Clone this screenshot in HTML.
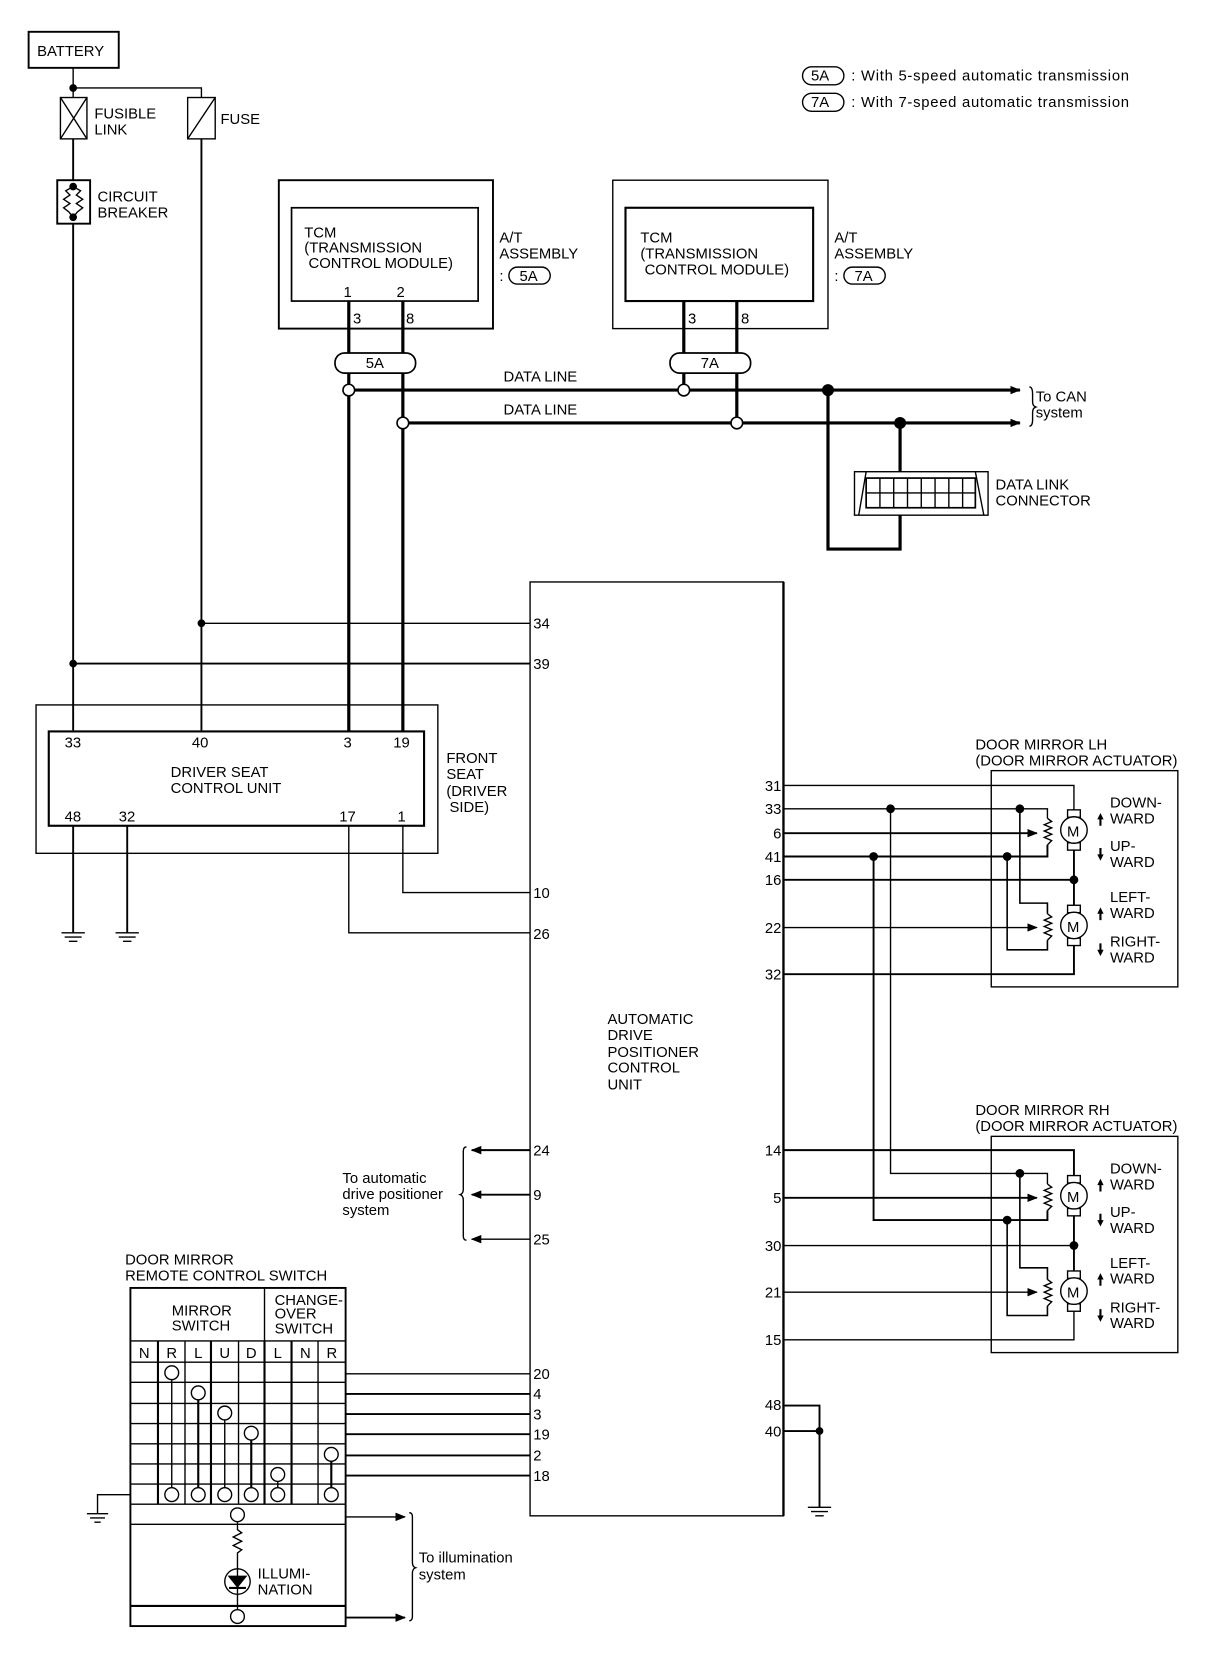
<!DOCTYPE html>
<html><head><meta charset="utf-8"><style>
html,body{margin:0;padding:0;background:#fff;}
svg{display:block;}
text{font-family:"Liberation Sans",sans-serif;font-size:14px;fill:#000;}
</style></head><body>
<svg width="1216" height="1660" viewBox="0 0 1147 1566" preserveAspectRatio="none" xmlns="http://www.w3.org/2000/svg">
<defs>
<marker id="ar" markerWidth="10" markerHeight="8" refX="9" refY="4" orient="auto" markerUnits="userSpaceOnUse"><path d="M0,0 L10,4 L0,8 Z" fill="#000"/></marker>
</defs>
<g stroke="#000" fill="none" stroke-width="1.3">
<!-- Battery -->
<rect x="27" y="30" width="85" height="34" stroke-width="1.8"/>
<path d="M69,64 V92 M69,83 H190 V92"/>
<circle cx="69" cy="83" r="3" fill="#000"/>
<rect x="57" y="92" width="25" height="39"/><path d="M57,92 L82,131 M82,92 L57,131"/>
<rect x="177" y="92" width="26" height="39"/><path d="M177,131 L203,92"/>
<path d="M69,131 V170" stroke-width="1.8"/>
<rect x="54" y="170" width="31" height="41" stroke-width="1.8"/>
<path d="M69,176 L62,180 L66,184 L60,188 L66,192 L60,196 L65,200 L69,205 M69,176 L76,180 L72,184 L78,188 L72,192 L78,196 L73,200 L69,205"/>
<circle cx="69" cy="176" r="3" fill="#000"/><circle cx="69" cy="205" r="3" fill="#000"/>
<path d="M69,211 V689" stroke-width="1.8"/>
<path d="M190,131 V689" stroke-width="1.8"/>
<circle cx="190" cy="588" r="3" fill="#000"/><circle cx="69" cy="626" r="3" fill="#000"/>
<path d="M190,588 H500"/><path d="M69,626 H500" stroke-width="1.8"/>
<!-- TCM boxes -->
<rect x="263" y="170" width="202" height="140" stroke-width="1.8"/>
<rect x="275" y="196" width="176" height="88" stroke-width="1.6"/>
<rect x="578" y="170" width="203" height="140" stroke-width="1.3"/>
<rect x="590" y="196" width="177" height="88" stroke-width="2"/>
<path d="M329,284 V690 M380,284 V690" stroke-width="3"/>
<path d="M645,284 V368 M695,284 V399" stroke-width="3"/>
<rect x="316" y="333" width="76" height="19" rx="9" fill="#fff" stroke-width="1.6"/>
<rect x="632" y="333" width="76" height="19" rx="9" fill="#fff" stroke-width="1.6"/>
<path d="M329,368 H962" stroke-width="3" marker-end="url(#ar)"/>
<path d="M380,399 H962" stroke-width="3" marker-end="url(#ar)"/>
<circle cx="329" cy="368" r="5.5" fill="#fff" stroke-width="1.5"/>
<circle cx="380" cy="399" r="5.5" fill="#fff" stroke-width="1.5"/>
<circle cx="645" cy="368" r="5.5" fill="#fff" stroke-width="1.5"/>
<circle cx="695" cy="399" r="5.5" fill="#fff" stroke-width="1.5"/>
<circle cx="781" cy="368" r="5" fill="#000"/><circle cx="849" cy="399" r="5" fill="#000"/>
<path d="M781,368 V518 H849 V486 M849,399 V445" stroke-width="3"/>
<path d="M971,365 Q974,365 974,372 V379 Q974,383 977,384 Q974,385 974,389 V396 Q974,402 971,402"/>
<!-- DLC -->
<rect x="806" y="445" width="126" height="41" stroke-width="1.3"/>
<path d="M817,445 L810,486 M920,445 L928,486"/>
<rect x="817" y="451" width="103" height="28" stroke-width="1.6"/>
<path d="M817,465 H920 M830,451 V479 M843,451 V479 M856,451 V479 M869,451 V479 M882,451 V479 M895,451 V479 M908,451 V479"/>
<!-- Legend pills -->
<rect x="757" y="63" width="39" height="17" rx="8.5"/>
<rect x="757" y="88" width="39" height="17" rx="8.5"/>
<rect x="480" y="252" width="39" height="16" rx="8"/>
<rect x="796" y="252" width="39" height="16" rx="8"/>
<!-- Driver seat -->
<rect x="34" y="665" width="379" height="140"/>
<rect x="46" y="690" width="354" height="89" stroke-width="2"/>
<path d="M69,779 V880 M120,779 V880" stroke-width="1.8"/>
<path d="M58,880 H80 M61,884 H77 M65,888 H73 M109,880 H131 M112,884 H128 M116,888 H124"/>
<path d="M329,779 V880 H500" stroke-width="1.3"/>
<path d="M380,779 V842 H500"/>
<!-- ADP -->
<rect x="500" y="549" width="239" height="881" stroke-width="1.3"/>
<path d="M739,549 V1430" stroke-width="2.2"/>
<path d="M500,1085 H445" stroke-width="1.8" marker-end="url(#ar)"/>
<path d="M500,1127 H445" stroke-width="1.8" marker-end="url(#ar)"/>
<path d="M500,1169 H445" stroke-width="1.3" marker-end="url(#ar)"/>
<path d="M440,1082 Q437,1082 437,1086 V1122 Q437,1126 434,1127 Q437,1128 437,1132 V1166 Q437,1170 440,1170"/>
<path d="M739,1326 H773 V1422 M739,1350 H773" stroke-width="1.8"/>
<circle cx="773" cy="1350" r="3" fill="#000"/>
<path d="M762,1422 H784 M765,1426 H781 M769,1430 H777"/>
<!-- LH mirror -->
<rect x="935" y="727" width="176" height="204"/>
<path d="M739,741 H1013 V764"/>
<path d="M739,763 H988 V772"/>
<path d="M739,786 H978" stroke-width="1.8" marker-end="url(#ar)"/>
<path d="M739,808 H988 V797" stroke-width="1.8"/>
<path d="M739,830 H1013" stroke-width="1.8"/>
<path d="M739,875 H978" marker-end="url(#ar)"/>
<path d="M739,919 H1013 V887" stroke-width="1.8"/>
<path d="M1013,802 V854" stroke-width="1.8"/>
<circle cx="1013" cy="830" r="3.5" fill="#000"/>
<path d="M962,763 V852 H988 V862 M950,808 V896 H988 V887" stroke-width="1.5"/>
<circle cx="840" cy="763" r="3.5" fill="#000"/><circle cx="962" cy="763" r="3.5" fill="#000"/>
<circle cx="824" cy="808" r="3.5" fill="#000"/><circle cx="950" cy="808" r="3.5" fill="#000"/>
<path d="M988,772 L992,775 L985,778 L992,781 L985,784 L992,787 L985,790 L992,793 L988,797"/>
<path d="M988,862 L992,865 L985,868 L992,871 L985,874 L992,877 L985,880 L992,883 L988,887"/>
<rect x="1007" y="764" width="12" height="7" fill="#fff"/><rect x="1007" y="795" width="12" height="7" fill="#fff"/>
<circle cx="1013" cy="783" r="12.5" fill="#fff"/>
<rect x="1007" y="854" width="12" height="7" fill="#fff"/><rect x="1007" y="885" width="12" height="7" fill="#fff"/>
<circle cx="1013" cy="873" r="12.5" fill="#fff"/>
<path d="M840,763 V1107 H988 V1117" stroke-width="1.3"/>
<path d="M824,808 V1151 H988 V1142" stroke-width="1.8"/>
<!-- RH mirror -->
<rect x="935" y="1072" width="176" height="204"/>
<path d="M739,1085 H1013 V1109" stroke-width="1.8"/>
<path d="M739,1130 H978" stroke-width="1.8" marker-end="url(#ar)"/>
<path d="M739,1175 H1013"/>
<path d="M739,1219 H978" marker-end="url(#ar)"/>
<path d="M739,1264 H1013 V1232"/>
<path d="M1013,1147 V1199" stroke-width="1.8"/>
<circle cx="1013" cy="1175" r="3.5" fill="#000"/>
<path d="M962,1107 V1196 H988 V1207 M950,1151 V1241 H988 V1232" stroke-width="1.5"/>
<circle cx="962" cy="1107" r="3.5" fill="#000"/><circle cx="950" cy="1151" r="3.5" fill="#000"/>
<path d="M988,1117 L992,1120 L985,1123 L992,1126 L985,1129 L992,1132 L985,1135 L992,1138 L988,1142"/>
<path d="M988,1207 L992,1210 L985,1213 L992,1216 L985,1219 L992,1222 L985,1225 L992,1228 L988,1232"/>
<rect x="1007" y="1109" width="12" height="7" fill="#fff"/><rect x="1007" y="1140" width="12" height="7" fill="#fff"/>
<circle cx="1013" cy="1128" r="12.5" fill="#fff"/>
<rect x="1007" y="1199" width="12" height="7" fill="#fff"/><rect x="1007" y="1230" width="12" height="7" fill="#fff"/>
<circle cx="1013" cy="1218" r="12.5" fill="#fff"/>
<!-- Switch -->
<rect x="123" y="1215" width="203" height="319" stroke-width="1.8"/>
<path d="M249.5,1215 V1265 M123,1265 H326 M123,1285 H326 M123,1304 H326 M123,1324 H326 M123,1343 H326 M123,1362 H326 M123,1381 H326 M123,1400 H326 M123,1419 H326 M123,1438 H326" stroke-width="1.3"/>
<path d="M123,1515 H326" stroke-width="2"/>
<path d="M149,1265 V1419 M199,1265 V1419 M249.5,1265 V1419 M275,1265 V1419" stroke-width="2"/>
<path d="M174.5,1265 V1419 M225,1265 V1419 M300,1265 V1419"/>
<path d="M162,1295 V1410 M212,1333 V1410 M262,1391 V1410"/>
<path d="M187,1314 V1410 M237,1352 V1410 M312.5,1372 V1410" stroke-width="2"/>
<g fill="#fff">
<circle cx="162" cy="1295" r="6.5"/><circle cx="187" cy="1314" r="6.5"/><circle cx="212" cy="1333" r="6.5"/><circle cx="237" cy="1352" r="6.5"/><circle cx="312.5" cy="1372" r="6.5"/><circle cx="262" cy="1391" r="6.5"/>
<circle cx="162" cy="1410" r="6.5"/><circle cx="187" cy="1410" r="6.5"/><circle cx="212" cy="1410" r="6.5"/><circle cx="237" cy="1410" r="6.5"/><circle cx="262" cy="1410" r="6.5"/><circle cx="312.5" cy="1410" r="6.5"/>
</g>
<path d="M326,1296 H500"/>
<path d="M326,1315 H500 M326,1334 H500 M326,1353 H500 M326,1373 H500 M326,1392 H500" stroke-width="1.8"/>
<path d="M123,1410 H92 V1428 M82,1428 H102 M85,1432 H99 M89,1436 H95"/>
<path d="M224,1436 V1443 L228,1446 L220,1450 L228,1454 L220,1458 L228,1462 L224,1465 V1518"/>
<circle cx="224" cy="1429" r="6.5" fill="#fff"/>
<circle cx="224" cy="1525" r="6.5" fill="#fff"/>
<circle cx="224" cy="1492" r="12" fill="#fff"/>
<path d="M224,1479 V1505"/>
<path d="M216,1487 H232 L224,1497 Z" fill="#000"/><path d="M216,1498 H232" stroke-width="2"/>
<path d="M326,1431 H382" stroke-width="1.3" marker-end="url(#ar)"/>
<path d="M326,1526 H382" stroke-width="1.8" marker-end="url(#ar)"/>
<path d="M386,1427 Q389,1427 389,1431 V1474 Q389,1478 392,1479 Q389,1480 389,1484 V1525 Q389,1529 386,1529"/>
</g>
<g>
<text x="35" y="53">BATTERY</text>
<text x="89" y="112">FUSIBLE</text><text x="89" y="127">LINK</text>
<text x="208" y="117">FUSE</text>
<text x="92" y="190">CIRCUIT</text><text x="92" y="205">BREAKER</text>
<text x="765" y="76" font-size="13">5A</text><text x="803" y="76" textLength="262">: With 5-speed automatic transmission</text>
<text x="765" y="101" font-size="13">7A</text><text x="803" y="101" textLength="262">: With 7-speed automatic transmission</text>
<text x="287" y="224">TCM</text><text x="287" y="238">(TRANSMISSION</text><text x="291" y="253">CONTROL MODULE)</text>
<text x="324" y="280">1</text><text x="374" y="280">2</text>
<text x="333" y="305">3</text><text x="383" y="305">8</text>
<text x="471" y="229">A/T</text><text x="471" y="244">ASSEMBLY</text><text x="471" y="265">:</text><text x="490" y="265" font-size="13">5A</text>
<text x="604" y="229">TCM</text><text x="604" y="244">(TRANSMISSION</text><text x="608" y="259">CONTROL MODULE)</text>
<text x="649" y="305">3</text><text x="699" y="305">8</text>
<text x="787" y="229">A/T</text><text x="787" y="244">ASSEMBLY</text><text x="787" y="265">:</text><text x="806" y="265" font-size="13">7A</text>
<text x="345" y="347" font-size="13">5A</text><text x="661" y="347" font-size="13">7A</text>
<text x="475" y="360">DATA LINE</text><text x="475" y="391">DATA LINE</text>
<text x="977" y="379">To CAN</text><text x="977" y="394">system</text>
<text x="939" y="462">DATA LINK</text><text x="939" y="477">CONNECTOR</text>
<text x="61" y="705">33</text><text x="181" y="705">40</text><text x="324" y="705">3</text><text x="371" y="705">19</text>
<text x="161" y="733">DRIVER SEAT</text><text x="161" y="748">CONTROL UNIT</text>
<text x="61" y="775">48</text><text x="112" y="775">32</text><text x="320" y="775">17</text><text x="375" y="775">1</text>
<text x="421" y="720">FRONT</text><text x="421" y="735">SEAT</text><text x="421" y="751">(DRIVER</text><text x="424" y="766">SIDE)</text>
<text x="503" y="593">34</text><text x="503" y="631">39</text><text x="503" y="847">10</text><text x="503" y="886">26</text>
<text x="503" y="1090">24</text><text x="503" y="1132">9</text><text x="503" y="1174">25</text>
<text x="503" y="1301">20</text><text x="503" y="1320">4</text><text x="503" y="1339">3</text><text x="503" y="1358">19</text><text x="503" y="1378">2</text><text x="503" y="1397">18</text>
<g text-anchor="end">
<text x="737" y="746">31</text><text x="737" y="768">33</text><text x="737" y="791">6</text><text x="737" y="813">41</text><text x="737" y="835">16</text><text x="737" y="880">22</text><text x="737" y="924">32</text>
<text x="737" y="1090">14</text><text x="737" y="1135">5</text><text x="737" y="1180">30</text><text x="737" y="1224">21</text><text x="737" y="1269">15</text><text x="737" y="1330">48</text><text x="737" y="1355">40</text>
</g>
<text x="573" y="966">AUTOMATIC</text><text x="573" y="981">DRIVE</text><text x="573" y="997">POSITIONER</text><text x="573" y="1012">CONTROL</text><text x="573" y="1028">UNIT</text>
<text x="323" y="1116">To automatic</text><text x="323" y="1131">drive positioner</text><text x="323" y="1146">system</text>
<text x="920" y="707">DOOR MIRROR LH</text><text x="920" y="722">(DOOR MIRROR ACTUATOR)</text>
<text x="920" y="1052">DOOR MIRROR RH</text><text x="920" y="1067">(DOOR MIRROR ACTUATOR)</text>
<g font-size="15">
<text x="1006.5" y="789">M</text><text x="1006.5" y="879">M</text><text x="1006.5" y="1134">M</text><text x="1006.5" y="1224">M</text>
</g>
<g>
<text x="1047" y="762">DOWN-</text><text x="1047" y="777">WARD</text><text x="1047" y="803">UP-</text><text x="1047" y="818">WARD</text>
<text x="1047" y="851">LEFT-</text><text x="1047" y="866">WARD</text><text x="1047" y="893">RIGHT-</text><text x="1047" y="908">WARD</text>
<text x="1047" y="1107">DOWN-</text><text x="1047" y="1122">WARD</text><text x="1047" y="1148">UP-</text><text x="1047" y="1163">WARD</text>
<text x="1047" y="1196">LEFT-</text><text x="1047" y="1211">WARD</text><text x="1047" y="1238">RIGHT-</text><text x="1047" y="1253">WARD</text>
</g>
<text x="118" y="1193">DOOR MIRROR</text><text x="118" y="1208">REMOTE CONTROL SWITCH</text>
<text x="162" y="1241" font-size="13">MIRROR</text><text x="162" y="1255" font-size="13">SWITCH</text>
<text x="259" y="1231" font-size="13">CHANGE-</text><text x="259" y="1244" font-size="13">OVER</text><text x="259" y="1258" font-size="13">SWITCH</text>
<g font-size="12" text-anchor="middle">
<text x="136" y="1281">N</text><text x="162" y="1281">R</text><text x="187" y="1281">L</text><text x="212" y="1281">U</text><text x="237" y="1281">D</text><text x="262" y="1281">L</text><text x="288" y="1281">N</text><text x="313" y="1281">R</text>
</g>
<text x="243" y="1489">ILLUMI-</text><text x="243" y="1504">NATION</text>
<text x="395" y="1474">To illumination</text><text x="395" y="1490">system</text>
</g>
<g fill="#000" stroke="none">
<path d="M1038,767 l-3,6 h2 v6 h2 v-6 h2 Z"/><path d="M1038,812 l-3,-6 h2 v-6 h2 v6 h2 Z"/>
<path d="M1038,856 l-3,6 h2 v6 h2 v-6 h2 Z"/><path d="M1038,902 l-3,-6 h2 v-6 h2 v6 h2 Z"/>
<path d="M1038,1112 l-3,6 h2 v6 h2 v-6 h2 Z"/><path d="M1038,1157 l-3,-6 h2 v-6 h2 v6 h2 Z"/>
<path d="M1038,1201 l-3,6 h2 v6 h2 v-6 h2 Z"/><path d="M1038,1247 l-3,-6 h2 v-6 h2 v6 h2 Z"/>
</g>
</svg>
</body></html>
